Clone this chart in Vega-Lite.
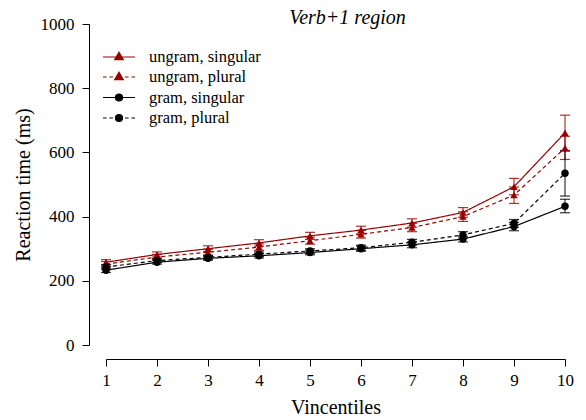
{
  "$schema": "https://vega.github.io/schema/vega-lite/v6.json",
  "width": 459,
  "height": 321,
  "autosize": "none",
  "padding": {"left": 106, "top": 24, "right": 21, "bottom": 75},
  "config": {
    "view": {"stroke": null},
    "font": "Liberation Serif, Times New Roman, DejaVu Serif, serif",
    "axis": {"grid": false, "domainColor": "black", "tickColor": "black", "labelColor": "black", "titleColor": "black", "labelFont": "Liberation Serif, Times New Roman, DejaVu Serif, serif", "titleFont": "Liberation Serif, Times New Roman, DejaVu Serif, serif", "titleFontWeight": "normal", "labelFontSize": 17, "titleFontSize": 20, "tickSize": 7, "domainWidth": 1, "tickWidth": 1},
    "legend": {"labelFont": "Liberation Serif, Times New Roman, DejaVu Serif, serif", "title": null, "orient": "none", "padding": 0, "symbolSize": 1024, "symbolStrokeWidth": 1.2, "labelFontSize": 16.5, "labelColor": "black", "labelOffset": 13, "labelLimit": 300}
  },
  "title": {"text": "Verb+1 region", "font": "Liberation Serif, Times New Roman, DejaVu Serif, serif", "fontStyle": "italic", "fontWeight": "normal", "fontSize": 20, "color": "black", "anchor": "middle", "dx": 12, "baseline": "alphabetic", "offset": -29},
  "data": {"values": [
    {"v": 1, "cond": "ungram, singular", "rt": 258, "lo": 250, "hi": 266},
    {"v": 2, "cond": "ungram, singular", "rt": 282, "lo": 274, "hi": 290},
    {"v": 3, "cond": "ungram, singular", "rt": 300, "lo": 291, "hi": 309},
    {"v": 4, "cond": "ungram, singular", "rt": 318, "lo": 308, "hi": 328},
    {"v": 5, "cond": "ungram, singular", "rt": 340, "lo": 329, "hi": 351},
    {"v": 6, "cond": "ungram, singular", "rt": 358, "lo": 346, "hi": 370},
    {"v": 7, "cond": "ungram, singular", "rt": 380, "lo": 367, "hi": 393},
    {"v": 8, "cond": "ungram, singular", "rt": 413, "lo": 398, "hi": 428},
    {"v": 9, "cond": "ungram, singular", "rt": 493, "lo": 468, "hi": 519},
    {"v": 10, "cond": "ungram, singular", "rt": 661, "lo": 606, "hi": 716},
    {"v": 1, "cond": "ungram, plural", "rt": 252, "lo": 244, "hi": 260},
    {"v": 2, "cond": "ungram, plural", "rt": 274, "lo": 266, "hi": 282},
    {"v": 3, "cond": "ungram, plural", "rt": 289, "lo": 280, "hi": 298},
    {"v": 4, "cond": "ungram, plural", "rt": 305, "lo": 295, "hi": 315},
    {"v": 5, "cond": "ungram, plural", "rt": 325, "lo": 314, "hi": 336},
    {"v": 6, "cond": "ungram, plural", "rt": 345, "lo": 333, "hi": 357},
    {"v": 7, "cond": "ungram, plural", "rt": 366, "lo": 353, "hi": 379},
    {"v": 8, "cond": "ungram, plural", "rt": 400, "lo": 385, "hi": 415},
    {"v": 9, "cond": "ungram, plural", "rt": 467, "lo": 441, "hi": 492},
    {"v": 10, "cond": "ungram, plural", "rt": 614, "lo": 578, "hi": 650},
    {"v": 1, "cond": "gram, singular", "rt": 233, "lo": 226, "hi": 240},
    {"v": 2, "cond": "gram, singular", "rt": 258, "lo": 252, "hi": 264},
    {"v": 3, "cond": "gram, singular", "rt": 270, "lo": 264, "hi": 276},
    {"v": 4, "cond": "gram, singular", "rt": 278, "lo": 271, "hi": 285},
    {"v": 5, "cond": "gram, singular", "rt": 288, "lo": 281, "hi": 295},
    {"v": 6, "cond": "gram, singular", "rt": 300, "lo": 292, "hi": 308},
    {"v": 7, "cond": "gram, singular", "rt": 312, "lo": 303, "hi": 321},
    {"v": 8, "cond": "gram, singular", "rt": 330, "lo": 321, "hi": 339},
    {"v": 9, "cond": "gram, singular", "rt": 369, "lo": 356, "hi": 382},
    {"v": 10, "cond": "gram, singular", "rt": 432, "lo": 412, "hi": 454},
    {"v": 1, "cond": "gram, plural", "rt": 243, "lo": 236, "hi": 250},
    {"v": 2, "cond": "gram, plural", "rt": 263, "lo": 257, "hi": 269},
    {"v": 3, "cond": "gram, plural", "rt": 273, "lo": 267, "hi": 279},
    {"v": 4, "cond": "gram, plural", "rt": 283, "lo": 276, "hi": 290},
    {"v": 5, "cond": "gram, plural", "rt": 293, "lo": 286, "hi": 300},
    {"v": 6, "cond": "gram, plural", "rt": 303, "lo": 295, "hi": 311},
    {"v": 7, "cond": "gram, plural", "rt": 320, "lo": 311, "hi": 329},
    {"v": 8, "cond": "gram, plural", "rt": 343, "lo": 333, "hi": 353},
    {"v": 9, "cond": "gram, plural", "rt": 379, "lo": 367, "hi": 391},
    {"v": 10, "cond": "gram, plural", "rt": 535, "lo": 464, "hi": 604}
  ]},
  "encoding": {
    "x": {"field": "v", "type": "quantitative", "scale": {"domain": [1, 10], "nice": false, "zero": false}, "axis": {"title": "Vincentiles", "values": [1,2,3,4,5,6,7,8,9,10], "format": "d", "labelAngle": 0, "offset": 14, "labelPadding": 6, "titlePadding": 9, "labelFlush": false}},
    "color": {"field": "cond", "type": "nominal", "scale": {"domain": ["ungram, singular", "ungram, plural", "gram, singular", "gram, plural"], "range": ["#990000", "#990000", "black", "black"]}, "legend": null}
  },
  "layer": [
    {
      "mark": {"type": "line", "strokeWidth": 1.2},
      "encoding": {
        "y": {"field": "rt", "type": "quantitative", "scale": {"domain": [0, 1000], "nice": false}, "axis": {"title": "Reaction time (ms)", "values": [0,200,400,600,800,1000], "format": "d", "offset": 17, "labelPadding": 8, "titlePadding": 7, "labelFlush": false}},
        "strokeDash": {"field": "cond", "type": "nominal", "scale": {"domain": ["ungram, singular", "ungram, plural", "gram, singular", "gram, plural"], "range": [[1,0],[4,3],[1,0],[4,3]]}, "legend": null}
      }
    },
    {
      "mark": {"type": "errorbar", "ticks": {"size": 10, "thickness": 1.2}, "rule": {"strokeWidth": 1.2}, "opacity": 0.8},
      "encoding": {
        "y": {"field": "lo", "type": "quantitative", "title": "Reaction time (ms)"},
        "y2": {"field": "hi"}
      }
    },
    {
      "mark": {"type": "point", "filled": true, "opacity": 1, "size": 55},
      "encoding": {
        "y": {"field": "rt", "type": "quantitative"},
        "shape": {"field": "cond", "type": "nominal", "scale": {"domain": ["ungram, singular", "ungram, plural", "gram, singular", "gram, plural"], "range": ["triangle-up", "triangle-up", "circle", "circle"]}, "legend": null}
      }
    },
    {
      "transform": [{"filter": "datum.v > 100"}],
      "mark": {"type": "point", "filled": true, "opacity": 1},
      "encoding": {
        "y": {"field": "rt", "type": "quantitative"},
        "shape": {"field": "cond", "type": "nominal", "scale": {"domain": ["ungram, singular"], "range": ["M-1,0H1M0,-0.3L0.27,0.17L-0.27,0.17Z"]},
          "legend": {"legendX": -4, "legendY": 16, "symbolFillColor": "#990000", "symbolStrokeColor": "#990000"}}
      }
    },
    {
      "transform": [{"filter": "datum.v > 100"}],
      "mark": {"type": "point", "filled": true, "opacity": 1},
      "encoding": {
        "y": {"field": "rt", "type": "quantitative"},
        "shape": {"field": "cond", "type": "nominal", "scale": {"domain": ["ungram, plural"], "range": ["M-1,0H-0.78M-0.6,0H-0.38M0.38,0H0.6M0.78,0H1M0,-0.3L0.27,0.17L-0.27,0.17Z"]},
          "legend": {"legendX": -4, "legendY": 36, "symbolFillColor": "#990000", "symbolStrokeColor": "#990000"}}
      }
    },
    {
      "transform": [{"filter": "datum.v > 100"}],
      "mark": {"type": "point", "filled": true, "opacity": 1},
      "encoding": {
        "y": {"field": "rt", "type": "quantitative"},
        "shape": {"field": "cond", "type": "nominal", "scale": {"domain": ["gram, singular"], "range": ["M-1,0H1M0.22,0A0.22,0.22,0,1,1,-0.22,0A0.22,0.22,0,1,1,0.22,0Z"]},
          "legend": {"legendX": -4, "legendY": 56.5, "symbolFillColor": "black", "symbolStrokeColor": "black"}}
      }
    },
    {
      "transform": [{"filter": "datum.v > 100"}],
      "mark": {"type": "point", "filled": true, "opacity": 1},
      "encoding": {
        "y": {"field": "rt", "type": "quantitative"},
        "shape": {"field": "cond", "type": "nominal", "scale": {"domain": ["gram, plural"], "range": ["M-1,0H-0.78M-0.6,0H-0.38M0.38,0H0.6M0.78,0H1M0.22,0A0.22,0.22,0,1,1,-0.22,0A0.22,0.22,0,1,1,0.22,0Z"]},
          "legend": {"legendX": -4, "legendY": 77, "symbolFillColor": "black", "symbolStrokeColor": "black"}}
      }
    }
  ],
  "resolve": {"scale": {"shape": "independent"}, "legend": {"shape": "independent"}}
}
